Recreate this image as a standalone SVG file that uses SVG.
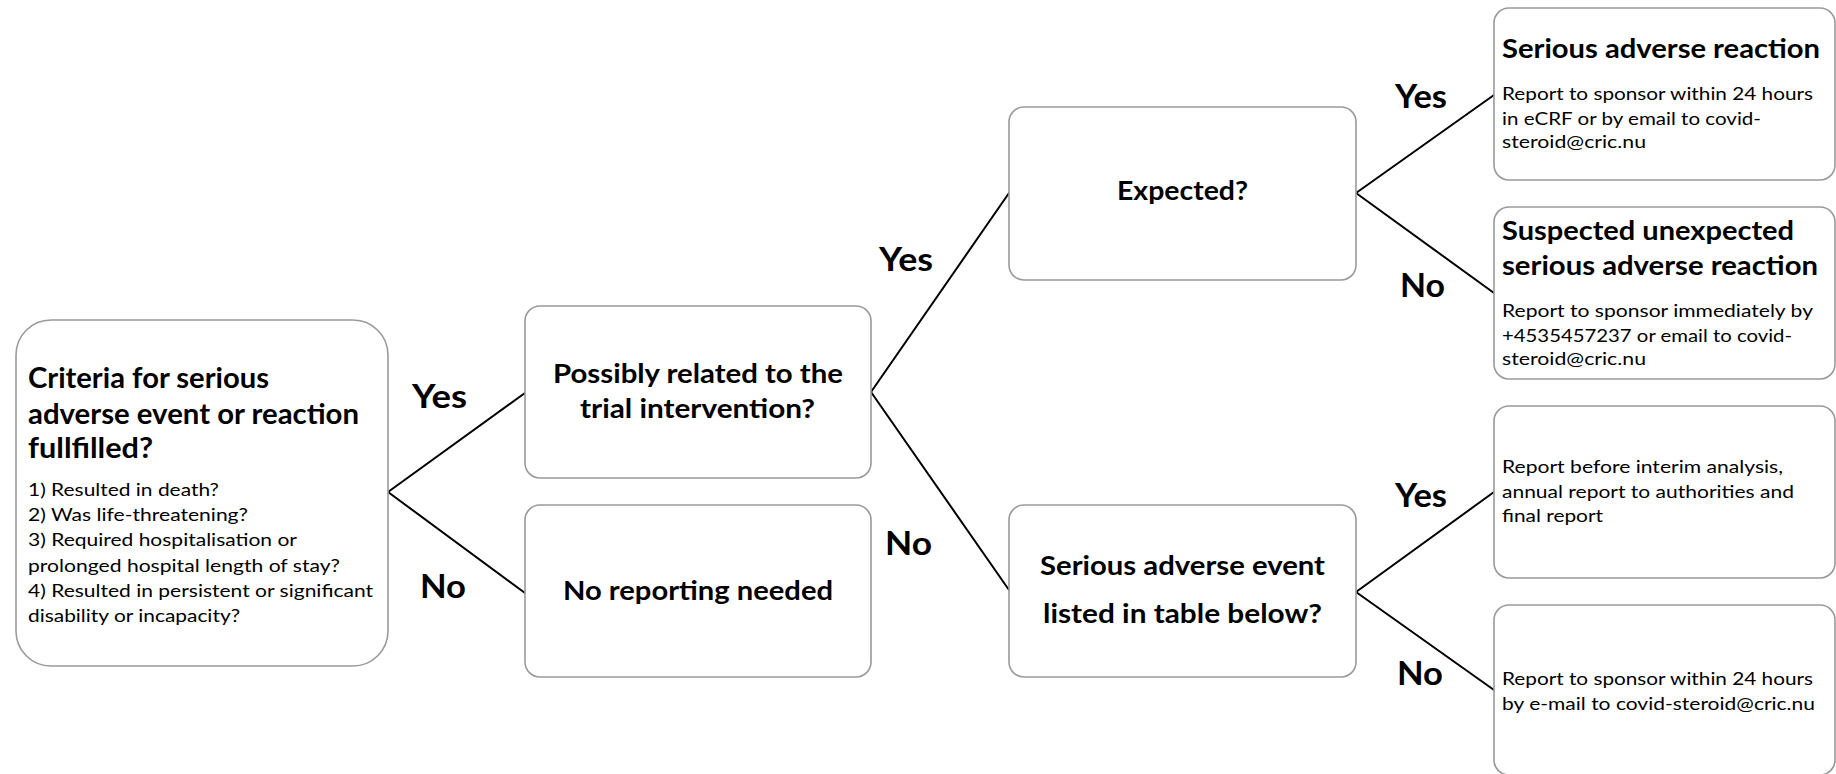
<svg xmlns="http://www.w3.org/2000/svg" width="1836" height="774" viewBox="0 0 1836 774">
<style>
.box{fill:#fff;stroke:#9a9a9a;stroke-width:1.6}
.conn line{stroke:#000;stroke-width:2;stroke-linecap:round}
text{font-family:Lato,"Open Sans","Liberation Sans",sans-serif;fill:#000}
.t{font-weight:bold;font-size:26px}
.t1{font-weight:bold;font-size:28px}
.b{font-size:18px}
.lbl{font-weight:bold;font-size:32px}
</style>
<rect width="1836" height="774" fill="#fff"/>
<g id="connectors" class="conn">
<line x1="388" y1="492" x2="525" y2="393"/>
<line x1="388" y1="492" x2="525" y2="593"/>
<line x1="871" y1="392" x2="1009" y2="193"/>
<line x1="871" y1="392" x2="1009" y2="590"/>
<line x1="1356" y1="193" x2="1494" y2="95"/>
<line x1="1356" y1="193" x2="1494" y2="293"/>
<line x1="1356" y1="592" x2="1494" y2="492"/>
<line x1="1356" y1="592" x2="1494" y2="690"/>
</g>
<g id="labels">
<text class="lbl" x="412" y="408" textLength="55" lengthAdjust="spacingAndGlyphs">Yes</text>
<text class="lbl" x="420" y="598" textLength="46" lengthAdjust="spacingAndGlyphs">No</text>
<text class="lbl" x="879" y="271" textLength="54" lengthAdjust="spacingAndGlyphs">Yes</text>
<text class="lbl" x="885" y="555" textLength="47" lengthAdjust="spacingAndGlyphs">No</text>
<text class="lbl" x="1395" y="108" textLength="52" lengthAdjust="spacingAndGlyphs">Yes</text>
<text class="lbl" x="1400" y="297" textLength="45" lengthAdjust="spacingAndGlyphs">No</text>
<text class="lbl" x="1395" y="507" textLength="52" lengthAdjust="spacingAndGlyphs">Yes</text>
<text class="lbl" x="1397" y="685" textLength="46" lengthAdjust="spacingAndGlyphs">No</text>
</g>
<g id="criteria">
<rect class="box" x="16" y="320" width="372" height="346" rx="35"/>
<text class="t1" x="28" y="388" textLength="241" lengthAdjust="spacingAndGlyphs">Criteria for serious</text>
<text class="t1" x="28" y="424" textLength="331" lengthAdjust="spacingAndGlyphs">adverse event or reaction</text>
<text class="t1" x="28" y="458" textLength="125" lengthAdjust="spacingAndGlyphs">fullfilled?</text>
<text class="b" x="28" y="496" textLength="191" lengthAdjust="spacingAndGlyphs">1) Resulted in death?</text>
<text class="b" x="28" y="521" textLength="220" lengthAdjust="spacingAndGlyphs">2) Was life-threatening?</text>
<text class="b" x="28" y="546" textLength="269" lengthAdjust="spacingAndGlyphs">3) Required hospitalisation or</text>
<text class="b" x="28" y="572" textLength="312" lengthAdjust="spacingAndGlyphs">prolonged hospital length of stay?</text>
<text class="b" x="28" y="597" textLength="345" lengthAdjust="spacingAndGlyphs">4) Resulted in persistent or significant</text>
<text class="b" x="28" y="622" textLength="212" lengthAdjust="spacingAndGlyphs">disability or incapacity?</text>
</g>
<g id="related">
<rect class="box" x="525" y="306" width="346" height="172" rx="15"/>
<text class="t" x="553" y="383" textLength="290" lengthAdjust="spacingAndGlyphs">Possibly related to the</text>
<text class="t" x="580" y="418" textLength="235" lengthAdjust="spacingAndGlyphs">trial intervention?</text>
</g>
<g id="noreporting">
<rect class="box" x="525" y="505" width="346" height="172" rx="15"/>
<text class="t" x="563" y="600" textLength="270" lengthAdjust="spacingAndGlyphs">No reporting needed</text>
</g>
<g id="expected">
<rect class="box" x="1009" y="107" width="347" height="173" rx="15"/>
<text class="t" x="1117" y="200" textLength="131" lengthAdjust="spacingAndGlyphs">Expected?</text>
</g>
<g id="listed">
<rect class="box" x="1009" y="505" width="347" height="172" rx="15"/>
<text class="t" x="1040" y="575" textLength="285" lengthAdjust="spacingAndGlyphs">Serious adverse event</text>
<text class="t" x="1043" y="623" textLength="279" lengthAdjust="spacingAndGlyphs">listed in table below?</text>
</g>
<g id="sar">
<rect class="box" x="1494" y="8" width="341" height="172" rx="15"/>
<text class="t" x="1502" y="58" textLength="318" lengthAdjust="spacingAndGlyphs">Serious adverse reaction</text>
<text class="b" x="1502" y="100" textLength="311" lengthAdjust="spacingAndGlyphs">Report to sponsor within 24 hours</text>
<text class="b" x="1502" y="125" textLength="259" lengthAdjust="spacingAndGlyphs">in eCRF or by email to covid-</text>
<text class="b" x="1502" y="148" textLength="144" lengthAdjust="spacingAndGlyphs">steroid@cric.nu</text>
</g>
<g id="susar">
<rect class="box" x="1494" y="207" width="341" height="172" rx="15"/>
<text class="t" x="1502" y="240" textLength="292" lengthAdjust="spacingAndGlyphs">Suspected unexpected</text>
<text class="t" x="1502" y="275" textLength="316" lengthAdjust="spacingAndGlyphs">serious adverse reaction</text>
<text class="b" x="1502" y="317" textLength="311" lengthAdjust="spacingAndGlyphs">Report to sponsor immediately by</text>
<text class="b" x="1502" y="342" textLength="290" lengthAdjust="spacingAndGlyphs">+4535457237 or email to covid-</text>
<text class="b" x="1502" y="365" textLength="144" lengthAdjust="spacingAndGlyphs">steroid@cric.nu</text>
</g>
<g id="interim">
<rect class="box" x="1494" y="406" width="341" height="172" rx="15"/>
<text class="b" x="1502" y="473" textLength="281" lengthAdjust="spacingAndGlyphs">Report before interim analysis,</text>
<text class="b" x="1502" y="498" textLength="292" lengthAdjust="spacingAndGlyphs">annual report to authorities and</text>
<text class="b" x="1502" y="522" textLength="101" lengthAdjust="spacingAndGlyphs">final report</text>
</g>
<g id="report24">
<rect class="box" x="1494" y="605" width="341" height="170" rx="15"/>
<text class="b" x="1502" y="685" textLength="311" lengthAdjust="spacingAndGlyphs">Report to sponsor within 24 hours</text>
<text class="b" x="1502" y="710" textLength="313" lengthAdjust="spacingAndGlyphs">by e-mail to covid-steroid@cric.nu</text>
</g>
</svg>
